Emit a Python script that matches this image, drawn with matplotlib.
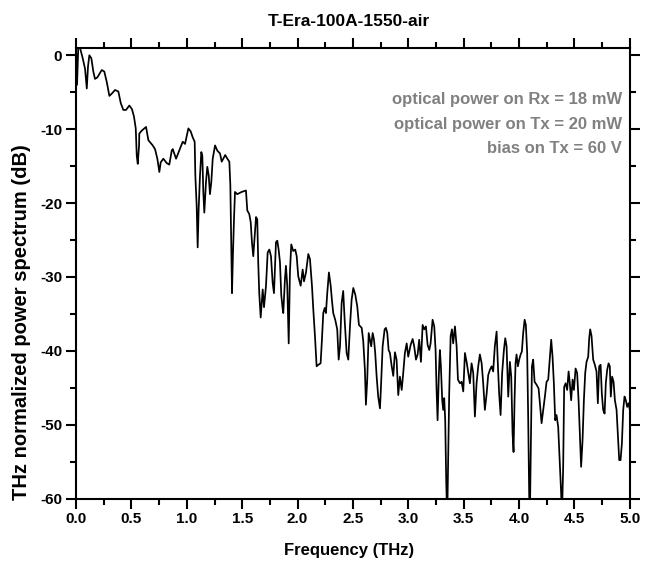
import matplotlib
matplotlib.use("Agg")

import matplotlib.pyplot as plt
from matplotlib.ticker import MultipleLocator, FormatStrFormatter

# -----------------------
# DATA
# -----------------------
freq_thz = [
    0.000, 0.009, 0.021, 0.036, 0.060, 0.081, 0.097, 0.108, 0.120, 0.138,
    0.156, 0.171, 0.192, 0.232, 0.255, 0.277, 0.301, 0.322, 0.352, 0.382,
    0.404, 0.427, 0.451, 0.481, 0.505, 0.523, 0.539, 0.548, 0.557, 0.569,
    0.571, 0.593, 0.632, 0.653, 0.692, 0.713, 0.734, 0.752, 0.764, 0.788,
    0.819, 0.842, 0.864, 0.873, 0.903, 0.932, 0.963, 0.984, 1.014, 1.035,
    1.053, 1.071, 1.077, 1.089, 1.098, 1.107, 1.119, 1.131, 1.140, 1.149,
    1.158, 1.173, 1.185, 1.198, 1.209, 1.221, 1.234, 1.255, 1.275, 1.300,
    1.315, 1.329, 1.347, 1.366, 1.384, 1.393, 1.402, 1.408, 1.417, 1.426,
    1.435, 1.456, 1.495, 1.534, 1.546, 1.564, 1.577, 1.588, 1.600, 1.613,
    1.625, 1.636, 1.645, 1.654, 1.667, 1.685, 1.697, 1.715, 1.730, 1.745,
    1.760, 1.775, 1.787, 1.805, 1.817, 1.829, 1.841, 1.853, 1.866, 1.871,
    1.886, 1.895, 1.907, 1.920, 1.931, 1.943, 1.961, 1.979, 1.992, 2.006,
    2.028, 2.046, 2.058, 2.076, 2.097, 2.112, 2.130, 2.142, 2.157, 2.172,
    2.187, 2.208, 2.220, 2.232, 2.245, 2.256, 2.268, 2.283, 2.299, 2.310,
    2.322, 2.340, 2.358, 2.371, 2.383, 2.398, 2.412, 2.425, 2.443, 2.458,
    2.473, 2.488, 2.503, 2.521, 2.539, 2.554, 2.579, 2.593, 2.608, 2.617,
    2.629, 2.642, 2.653, 2.665, 2.678, 2.690, 2.701, 2.714, 2.728, 2.744,
    2.753, 2.768, 2.786, 2.798, 2.810, 2.822, 2.834, 2.849, 2.864, 2.879,
    2.894, 2.909, 2.924, 2.940, 2.954, 2.969, 2.985, 2.999, 3.021, 3.039,
    3.053, 3.069, 3.084, 3.098, 3.114, 3.129, 3.144, 3.159, 3.174, 3.189,
    3.201, 3.219, 3.234, 3.246, 3.255, 3.264, 3.276, 3.285, 3.294, 3.306,
    3.315, 3.324, 3.333, 3.342, 3.351, 3.360, 3.369, 3.382, 3.394, 3.405,
    3.421, 3.436, 3.448, 3.466, 3.481, 3.496, 3.511, 3.526, 3.541, 3.556,
    3.571, 3.586, 3.601, 3.616, 3.631, 3.646, 3.662, 3.676, 3.691, 3.707,
    3.721, 3.736, 3.752, 3.766, 3.781, 3.797, 3.809, 3.820, 3.833, 3.847,
    3.863, 3.875, 3.887, 3.902, 3.917, 3.929, 3.941, 3.950, 3.959, 3.968,
    3.977, 3.989, 4.001, 4.014, 4.025, 4.037, 4.050, 4.061, 4.073, 4.082,
    4.091, 4.097, 4.106, 4.116, 4.127, 4.140, 4.158, 4.176, 4.188, 4.203,
    4.218, 4.233, 4.248, 4.263, 4.278, 4.290, 4.302, 4.314, 4.326, 4.338,
    4.353, 4.368, 4.380, 4.386, 4.398, 4.407, 4.420, 4.434, 4.447, 4.458,
    4.470, 4.483, 4.495, 4.510, 4.524, 4.537, 4.549, 4.560, 4.573, 4.585,
    4.597, 4.609, 4.624, 4.633, 4.642, 4.654, 4.669, 4.684, 4.699, 4.711,
    4.723, 4.736, 4.747, 4.759, 4.772, 4.783, 4.795, 4.808, 4.819, 4.828,
    4.840, 4.853, 4.865, 4.880, 4.895, 4.904, 4.916, 4.928, 4.940, 4.952,
    4.964, 4.976, 4.988, 5.000,
]

power_db = [
    1.0, -4.0, 1.5, 1.0, -0.4, -1.8, -4.5, -1.5, 0.0, -0.4,
    -2.2, -3.2, -3.0, -2.0, -2.2, -3.6, -5.5, -5.2, -4.7, -4.9,
    -6.5, -7.4, -7.4, -6.8, -7.3, -8.3, -9.9, -13.6, -14.7, -12.2,
    -10.6, -10.2, -9.7, -11.5, -12.2, -12.7, -14.0, -15.8, -14.5, -14.0,
    -14.6, -14.8, -12.9, -12.7, -14.0, -12.9, -11.7, -12.0, -9.9, -10.3,
    -11.1, -11.7, -16.3, -20.4, -26.0, -20.8, -16.3, -13.1, -13.6, -18.5,
    -21.3, -17.2, -15.1, -16.3, -18.8, -17.2, -14.0, -12.2, -12.9, -13.3,
    -14.4, -14.0, -13.5, -14.0, -14.4, -17.6, -26.3, -32.2, -26.7, -22.2,
    -18.5, -18.8, -18.5, -18.3, -21.0, -21.5, -22.6, -25.3, -27.2, -24.4,
    -21.9, -22.2, -28.1, -32.2, -35.5, -31.7, -34.1, -31.2, -26.7, -26.3,
    -27.2, -30.8, -32.2, -25.3, -25.1, -26.3, -28.0, -32.5, -34.4, -34.9,
    -30.3, -28.5, -31.2, -39.0, -29.4, -25.6, -26.5, -26.3, -27.2, -29.9,
    -31.2, -29.0, -30.6, -29.4, -26.9, -27.6, -31.2, -34.4, -38.0, -42.1,
    -41.9, -41.7, -38.5, -34.9, -34.2, -34.9, -32.2, -29.4, -31.2, -33.1,
    -34.9, -35.8, -37.1, -41.2, -39.4, -33.5, -31.9, -35.8, -40.3, -41.2,
    -36.7, -33.1, -31.5, -32.4, -34.0, -36.5, -36.9, -38.7, -42.6, -47.3,
    -43.9, -37.6, -38.5, -39.4, -37.6, -38.5, -40.3, -43.5, -46.2, -47.8,
    -44.9, -39.4, -37.1, -36.9, -37.6, -39.9, -40.3, -42.0, -43.4, -40.2,
    -41.2, -46.0, -43.5, -45.3, -43.0, -40.3, -39.0, -40.8, -39.2, -38.4,
    -39.4, -41.2, -40.5, -38.5, -41.5, -36.5, -37.1, -36.7, -39.2, -39.9,
    -39.0, -35.8, -36.7, -39.9, -45.3, -49.4, -43.0, -39.9, -42.1, -46.7,
    -48.0, -46.4, -49.4, -57.6, -63.0, -54.8, -45.8, -38.0, -37.1, -39.0,
    -36.7, -39.4, -43.9, -44.4, -44.2, -45.5, -40.3, -41.5, -43.0, -44.4,
    -41.7, -43.0, -48.9, -44.4, -42.1, -40.5, -41.7, -44.4, -48.0, -45.8,
    -43.3, -42.6, -42.1, -42.8, -39.4, -37.4, -42.1, -45.8, -48.7, -43.0,
    -39.9, -38.3, -39.4, -46.2, -41.5, -43.5, -51.2, -53.7, -46.7, -41.7,
    -40.5, -42.1, -41.2, -40.5, -40.1, -37.6, -35.8, -36.5, -40.3, -48.9,
    -59.4, -63.0, -53.0, -42.1, -41.2, -44.2, -44.6, -45.1, -47.1, -49.8,
    -48.0, -46.2, -44.2, -43.9, -40.8, -38.5, -40.8, -44.4, -49.4, -48.7,
    -50.3, -55.3, -59.4, -63.0, -55.7, -44.9, -44.4, -45.3, -42.8, -44.4,
    -46.7, -43.9, -45.3, -42.4, -43.0, -46.7, -51.2, -55.7, -52.1, -46.7,
    -43.0, -41.5, -40.8, -38.3, -37.1, -38.0, -41.2, -41.9, -42.8, -47.1,
    -42.1, -41.9, -45.8, -48.0, -48.5, -44.4, -42.6, -41.7, -42.1, -46.2,
    -43.5, -44.2, -46.7, -48.0, -52.1, -54.8, -54.8, -52.6, -48.0, -46.2,
    -46.7, -47.6, -47.1, -48.0,
]

title = "T-Era-100A-1550-air"
x_label = "Frequency (THz)"
y_label = "THz normalized power spectrum (dB)"
notes = [
    "optical power on Rx = 18 mW",
    "optical power on Tx = 20 mW",
    "bias on Tx = 60 V",
]

# -----------------------
# PLOT
# -----------------------
plt.rcParams['font.family'] = ['Liberation Sans', 'DejaVu Sans']
plt.rcParams['font.weight'] = 'bold'
plt.rcParams['axes.unicode_minus'] = False  # plain hyphen like the original

fig = plt.figure(figsize=(6.5, 5.77), dpi=100)
ax = fig.add_axes([0.117, 0.136, 0.852, 0.781])

ax.plot(freq_thz, power_db, color="black", linewidth=1.25)

ax.set_xlim(0, 5)
ax.set_ylim(-60, 1)

ax.xaxis.set_major_locator(MultipleLocator(0.5))
ax.xaxis.set_minor_locator(MultipleLocator(0.25))
ax.yaxis.set_major_locator(MultipleLocator(10))
ax.yaxis.set_minor_locator(MultipleLocator(5))
ax.xaxis.set_major_formatter(FormatStrFormatter('%.1f'))

for side in ax.spines:
    ax.spines[side].set_linewidth(1.5)

ax.tick_params(which='both', direction='out', top=True, right=True,
               width=1.5, labelsize=11)
ax.tick_params(which='major', length=7, pad=3)
ax.tick_params(which='minor', length=4)
for lbl in ax.get_xticklabels() + ax.get_yticklabels():
    lbl.set_fontweight('bold')

fig.text(0.537, 1 - 22 / 577, title, ha='center', va='center',
         fontsize=12.5, fontweight='bold')
fig.text(0.537, 1 - 551 / 577, x_label, ha='center', va='center',
         fontsize=12, fontweight='bold')
fig.text(22 / 650, 1 - 322 / 577, y_label, ha='center', va='center',
         rotation=90, fontsize=14.5, fontweight='bold')

for i, note in enumerate(notes):
    ax.text(0.986, 0.885 - i * 0.054, note, transform=ax.transAxes,
            ha='right', va='center', color='#808080', fontsize=12,
            fontweight='bold')

fig.savefig("out.png", dpi=100)
